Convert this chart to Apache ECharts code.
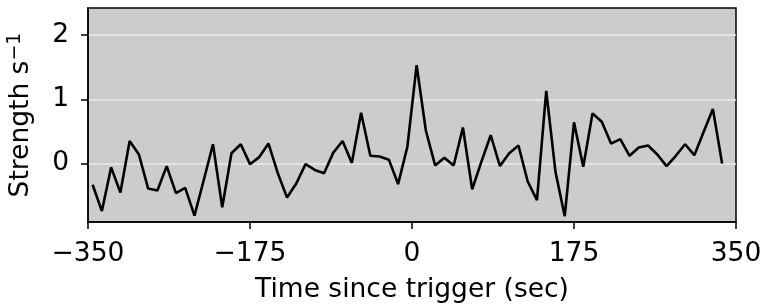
<!DOCTYPE html>
<html>
<head>
<meta charset="utf-8">
<script src="https://cdn.jsdelivr.net/npm/echarts@6/dist/echarts.min.js"></script>
<style>
html,body{margin:0;padding:0;background:#fff;}
#c{width:765px;height:305px;}
</style>
</head>
<body>
<div id="c"></div>
<script>
const times = [-345,-335,-325,-315,-305,-295,-285,-275,-265,-255,-245,-235,-225,-215,-205,-195,-185,-175,-165,-155,-145,-135,-125,-115,-105,-95,-85,-75,-65,-55,-45,-35,-25,-15,-5,5,15,25,35,45,55,65,75,85,95,105,115,125,135,145,155,165,175,185,195,205,215,225,235,245,255,265,275,285,295,305,315,325,335];
const strength = [-0.33,-0.74,-0.06,-0.45,0.35,0.14,-0.39,-0.42,-0.04,-0.46,-0.38,-0.81,-0.26,0.30,-0.68,0.16,0.30,-0.01,0.10,0.31,-0.15,-0.53,-0.31,-0.01,-0.10,-0.15,0.17,0.35,0.01,0.79,0.12,0.11,0.06,-0.32,0.26,1.53,0.51,-0.03,0.09,-0.03,0.56,-0.40,0.03,0.44,-0.04,0.16,0.28,-0.28,-0.57,1.13,-0.13,-0.82,0.64,-0.05,0.78,0.65,0.31,0.38,0.12,0.25,0.28,0.14,-0.04,0.12,0.30,0.13,0.49,0.85,0.00];
const xTicks = [-350,-175,0,175,350];
const yTicks = [0,1,2];

const chart = echarts.init(document.getElementById('c'), null, {renderer:'canvas'});
const font = 'DejaVu Sans';
const fs = 26.5;
const fmt = v => String(v).replace('-', '\u2212');
chart.setOption({
  animation:false,
  grid:{left:88,right:29,top:8,bottom:83,containLabel:false,outerBoundsMode:'none',show:true,backgroundColor:'#cccccc',borderColor:'#000',borderWidth:1.5},
  xAxis:{
    type:'value', min:-350, max:350, interval:175,
    name:'Time since trigger (sec)', nameLocation:'middle', nameGap:55,
    nameTextStyle:{fontFamily:font,fontSize:fs,color:'#000'},
    axisLine:{show:true,onZero:false,lineStyle:{color:'#000',width:1.5}},
    axisTick:{show:true,inside:false,length:7,lineStyle:{color:'#000',width:1.5},customValues:xTicks},
    axisLabel:{fontFamily:font,fontSize:fs,color:'#000',margin:19,formatter:fmt,customValues:xTicks},
    splitLine:{show:false}
  },
  yAxis:{
    type:'value', min:-0.91, max:2.42,
    name:'Strength s{sup|\u22121}', nameLocation:'middle', nameGap:51,
    nameTextStyle:{fontFamily:font,fontSize:fs,color:'#000',
      rich:{sup:{fontFamily:font,fontSize:19,color:'#000',verticalAlign:'bottom',padding:[0,0,12,0]}}},
    axisLine:{show:true,onZero:false,lineStyle:{color:'#000',width:1.5}},
    axisTick:{show:true,inside:false,length:7,lineStyle:{color:'#000',width:1.5},customValues:yTicks},
    axisLabel:{fontFamily:font,fontSize:fs,color:'#000',margin:19,formatter:fmt,customValues:yTicks},
    splitLine:{show:true,lineStyle:{color:'#ebebeb',width:1.5}}
  },
  series:[{
    type:'line',
    data: times.map((t,i)=>[t,strength[i]]),
    showSymbol:false, symbol:'none',
    lineStyle:{color:'#000',width:2.6},
    silent:true
  }]
});
</script>
</body>
</html>
